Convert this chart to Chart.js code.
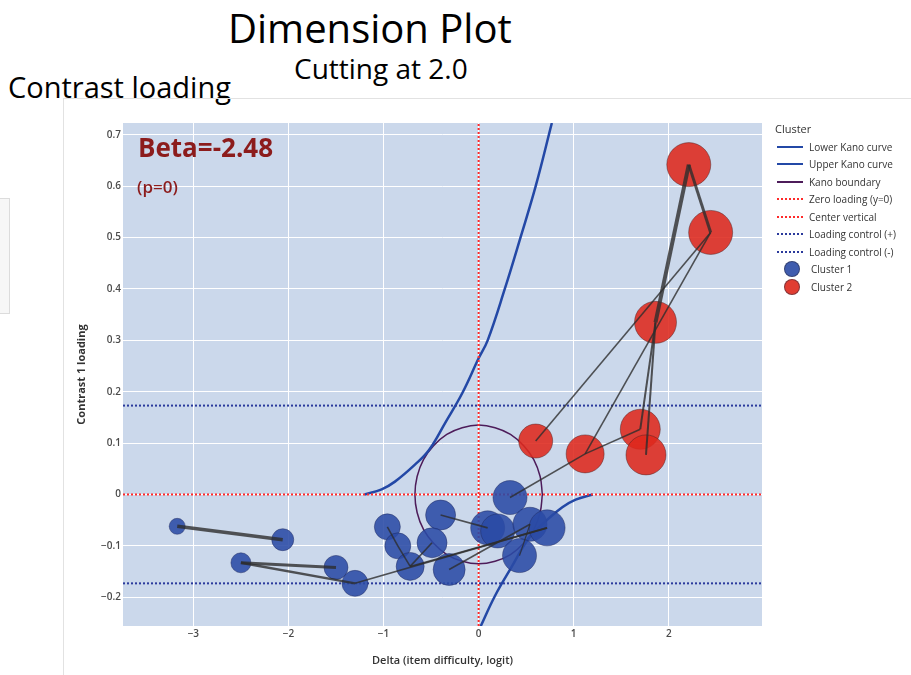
<!DOCTYPE html>
<html lang="en">
<head>
<meta charset="UTF-8">
<title>Dimension Plot</title>
<style>
  body { margin: 0; background: #fff; font-family: "Open Sans", sans-serif; }
  .page { position: relative; width: 911px; height: 675px; overflow: hidden; }
  .txt { position: absolute; white-space: nowrap; line-height: 1; }
  .frame-h { position: absolute; left: 63px; top: 98px; width: 848px; height: 1px; background: #e2e2e2; }
  .frame-v { position: absolute; left: 63px; top: 98px; width: 1px; height: 577px; background: #e2e2e2; }
  .side-box { position: absolute; left: -1px; top: 198px; width: 9px; height: 114px; background: #f7f7f7; border: 1px solid #dcdcdc; }
  #chartBox { position: absolute; left: 65px; top: 100px; width: 846px; height: 575px; }

  /* legend */
  .legend { position: absolute; left: 775px; top: 121px; font-size: 10px; color: #333; }
  .legend .head { height: 17px; line-height: 16px; font-size: 11px; }
  .legend .row { height: 17.5px; display: flex; align-items: center; }
  .legend .sw { width: 26px; margin-left: 2px; margin-right: 6px; height: 0; }
  .legend .dot { width: 16px; height: 16px; border-radius: 50%; margin-left: 9px; margin-right: 11px; box-sizing: border-box; border: 1px solid rgba(40,40,60,0.5); }
</style>
<script src="https://cdn.jsdelivr.net/npm/chart.js"></script>
</head>
<body>
<div class="page">
  <div class="txt" style="left:228px; top:8px; font-size:40px; font-weight:500;">Dimension Plot</div>
  <div class="txt" style="left:294px; top:54px; font-size:28px; font-weight:500;">Cutting at 2.0</div>
  <div class="txt" style="left:8px; top:72px; font-size:29px; font-weight:500;">Contrast loading</div>
  <div class="frame-h"></div>
  <div class="frame-v"></div>
  <div class="side-box"></div>

  <div id="chartBox"><canvas id="dimChart" width="846" height="575"></canvas></div>

  <div class="txt" style="left:138px; top:134px; font-size:26px; font-weight:700; color:#8c1c1c;">Beta=-2.48</div>
  <div class="txt" style="left:137px; top:178px; font-size:17px; font-weight:600; color:#8c1c1c;">(p=0)</div>

  <div class="legend">
    <div class="head">Cluster</div>
    <div class="row"><span class="sw" style="border-top:2.5px solid #2348a6"></span>Lower Kano curve</div>
    <div class="row"><span class="sw" style="border-top:2.5px solid #2348a6"></span>Upper Kano curve</div>
    <div class="row"><span class="sw" style="border-top:2px solid #4d1c5a"></span>Kano boundary</div>
    <div class="row"><span class="sw" style="border-top:2px dotted #ff2a2a"></span>Zero loading (y=0)</div>
    <div class="row"><span class="sw" style="border-top:2px dotted #ff2a2a"></span>Center vertical</div>
    <div class="row"><span class="sw" style="border-top:2px dotted #2b3a9c"></span>Loading control (+)</div>
    <div class="row"><span class="sw" style="border-top:2px dotted #2b3a9c"></span>Loading control (-)</div>
    <div class="row"><span class="dot" style="background:rgba(42,74,165,0.9)"></span>Cluster 1</div>
    <div class="row"><span class="dot" style="background:rgba(222,40,28,0.9)"></span>Cluster 2</div>
  </div>
</div>

<script>
// axis ranges
const xMin = -3.74, xMax = 2.98;
const yMin = -0.256, yMax = 0.723;
const loadingControl = 0.173;

// cluster 1 (blue)
const c1X = [-3.17, -2.06, -2.50, -1.50, -1.30, -0.96, -0.85, -0.72, -0.40, -0.49, -0.31, 0.095, 0.20, 0.33, 0.54, 0.72, 0.43];
const c1Y = [-0.062, -0.088, -0.133, -0.142, -0.173, -0.063, -0.100, -0.140, -0.040, -0.094, -0.146, -0.065, -0.071, -0.006, -0.058, -0.065, -0.119];
const c1Size = [8, 11, 10, 12, 13, 13, 13, 14, 15, 15, 16, 17, 17, 17, 17, 18, 17];

// cluster 2 (red)
const c2X = [2.21, 2.44, 1.86, 1.70, 1.76, 1.12, 0.60];
const c2Y = [0.642, 0.510, 0.335, 0.127, 0.077, 0.079, 0.104];
const c2Size = [22, 22, 21, 20, 20, 19, 17];

// links between items (0-16 = cluster 1, 17-23 = cluster 2)
const edgeFrom   = [0, 2, 2, 4,  7,  10, 8,  5, 6, 7, 16, 13, 22, 23, 22, 17, 17, 19, 19];
const edgeTo     = [1, 3, 4, 15, 15, 14, 11, 6, 7, 9, 14, 22, 20, 18, 18, 19, 18, 20, 21];
const edgeWeight = [3.5, 3, 2.5, 1.6, 1.6, 1.6, 1.6, 1.6, 1.6, 1.6, 1.2, 1.6, 1.6, 1.6, 1.6, 4, 3, 2, 2];

// Kano curves
const lowerKanoX = [-1.20, -1.02, -0.88, -0.67, -0.52, -0.35, -0.17, 0, 0.095, 0.275, 0.44, 0.60, 0.77];
const lowerKanoY = [0, 0.010, 0.025, 0.058, 0.087, 0.140, 0.198, 0.265, 0.30, 0.40, 0.50, 0.60, 0.723];
const upperKanoX = [1.20, 1.02, 0.88, 0.67, 0.52, 0.35, 0.17, 0, -0.095];
const upperKanoY = [0, -0.010, -0.025, -0.058, -0.087, -0.140, -0.198, -0.265, -0.30];

// Kano boundary (ellipse round the origin)
const boundaryX = [0.67, 0.647, 0.58, 0.474, 0.335, 0.173, 0, -0.173, -0.335, -0.474, -0.58, -0.647, -0.67,
                   -0.647, -0.58, -0.474, -0.335, -0.173, 0, 0.173, 0.335, 0.474, 0.58, 0.647, 0.67];
const boundaryY = [0, 0.035, 0.068, 0.095, 0.117, 0.130, 0.135, 0.130, 0.117, 0.095, 0.068, 0.035, 0,
                   -0.035, -0.068, -0.095, -0.117, -0.130, -0.135, -0.130, -0.117, -0.095, -0.068, -0.035, 0];

const pts = (xs, ys) => xs.map((x, i) => ({ x: x, y: ys[i] }));

const nodesX = c1X.concat(c2X);
const nodesY = c1Y.concat(c2Y);

function refLine(data, color, width, dash, tension) {
    return {
        type: 'line', data: data, borderColor: color, borderWidth: width,
        borderDash: dash, pointRadius: 0, fill: false, showLine: true,
        tension: tension || 0, order: 3
    };
}

const datasets = [
    refLine([{ x: xMin, y: 0 }, { x: xMax, y: 0 }], '#ff2a2a', 2, [2, 2]),
    refLine([{ x: 0, y: yMin }, { x: 0, y: yMax }], '#ff2a2a', 2, [2, 2]),
    refLine([{ x: xMin, y: loadingControl }, { x: xMax, y: loadingControl }], '#2b3a9c', 2, [2, 2]),
    refLine([{ x: xMin, y: -loadingControl }, { x: xMax, y: -loadingControl }], '#2b3a9c', 2, [2, 2]),
    refLine(pts(lowerKanoX, lowerKanoY), '#2348a6', 2.5, [], 0.4),
    refLine(pts(upperKanoX, upperKanoY), '#2348a6', 2.5, [], 0.4),
    refLine(pts(boundaryX, boundaryY), '#4d1c5a', 1.5, [], 0.4),
    {
        type: 'bubble',
        data: c1X.map((x, i) => ({ x: x, y: c1Y[i], r: c1Size[i] })),
        backgroundColor: 'rgba(42,74,165,0.88)',
        borderColor: 'rgba(30,40,90,0.45)',
        borderWidth: 1, order: 1
    },
    {
        type: 'bubble',
        data: c2X.map((x, i) => ({ x: x, y: c2Y[i], r: c2Size[i] })),
        backgroundColor: 'rgba(222,40,28,0.88)',
        borderColor: 'rgba(70,30,30,0.45)',
        borderWidth: 1, order: 1
    }
];

// item links, drawn over the bubbles
edgeFrom.forEach((a, i) => {
    const b = edgeTo[i];
    datasets.push({
        type: 'line',
        data: [{ x: nodesX[a], y: nodesY[a] }, { x: nodesX[b], y: nodesY[b] }],
        borderColor: 'rgba(45,45,45,0.8)',
        borderWidth: edgeWeight[i],
        pointRadius: 0, fill: false, showLine: true, order: 0
    });
});

// light blue plot background
const plotBg = {
    id: 'plotBg',
    beforeDraw(chart) {
        const a = chart.chartArea;
        const ctx = chart.ctx;
        ctx.save();
        ctx.fillStyle = '#cbd8eb';
        ctx.fillRect(a.left, a.top, a.right - a.left, a.bottom - a.top);
        ctx.restore();
    }
};

const tickFont = { family: 'Open Sans', size: 10, weight: '600' };
const fmt = v => v === 0 ? '0' : String(+v.toFixed(1)).replace('-', '\u2212');

new Chart(document.getElementById('dimChart'), {
    type: 'scatter',
    data: { datasets: datasets },
    plugins: [plotBg],
    options: {
        responsive: false,
        animation: false,
        layout: { padding: { top: 17, right: 149, left: 0, bottom: 0 } },
        plugins: { legend: { display: false }, tooltip: { enabled: false } },
        scales: {
            x: {
                type: 'linear', min: xMin, max: xMax,
                afterFit(s) { s.height = 49; },
                grid: { color: '#ffffff', lineWidth: 1, drawTicks: false },
                border: { display: false },
                ticks: { stepSize: 1, includeBounds: false, padding: 2, font: tickFont, color: '#4a4a4a', callback: fmt },
                title: { display: true, text: 'Delta (item difficulty, logit)', color: '#333',
                         font: { family: 'Open Sans', size: 11, weight: '600' }, padding: { top: 0, bottom: 8 } }
            },
            y: {
                type: 'linear', min: yMin, max: yMax,
                afterFit(s) { s.width = 58; },
                grid: { color: '#ffffff', lineWidth: 1, drawTicks: false },
                border: { display: false },
                ticks: { stepSize: 0.1, includeBounds: false, padding: 2, font: tickFont, color: '#4a4a4a', callback: fmt },
                title: { display: true, text: 'Contrast 1 loading', color: '#333', align: 'center',
                         font: { family: 'Open Sans', size: 11, weight: '700' }, padding: { top: 10, bottom: 0 } }
            }
        }
    }
});
</script>
</body>
</html>
